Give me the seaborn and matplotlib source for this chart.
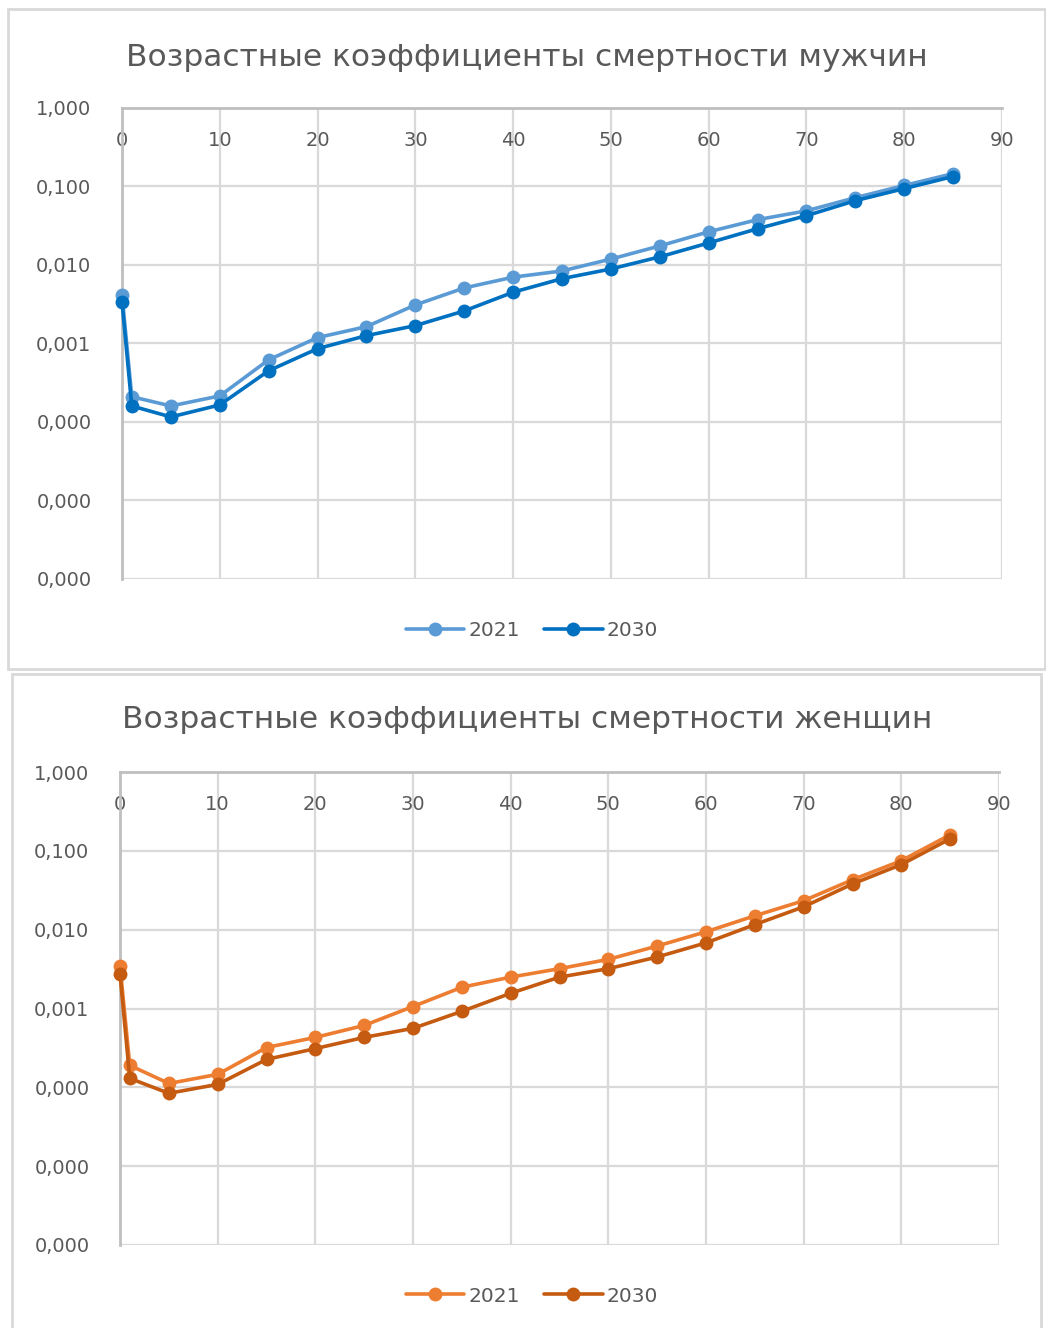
import matplotlib
matplotlib.use("Agg")
import matplotlib.pyplot as plt
import seaborn as sns
import pandas as pd
from matplotlib.patches import Rectangle

# ---- data ----
ages = [0, 1, 5, 10, 15, 20, 25, 30, 35, 40, 45, 50, 55, 60, 65, 70, 75, 80, 85]
men_2021 = [0.0042, 0.00021, 0.00016, 0.000215, 0.00062, 0.00119, 0.00164, 0.0031, 0.0051,
            0.0070, 0.0084, 0.0119, 0.0175, 0.0265, 0.0378, 0.049, 0.072, 0.103, 0.146]
men_2030 = [0.0034, 0.00016, 0.000116, 0.000165, 0.00045, 0.00086, 0.00126, 0.00169, 0.0026,
            0.0045, 0.0067, 0.0089, 0.0127, 0.0191, 0.029, 0.0425, 0.066, 0.094, 0.134]
women_2021 = [0.0035, 0.00019, 0.000112, 0.000146, 0.00032, 0.00043, 0.00061, 0.00106, 0.00186,
              0.0025, 0.0032, 0.0042, 0.0062, 0.0094, 0.015, 0.0233, 0.043, 0.075, 0.16]
women_2030 = [0.00275, 0.00013, 0.000084, 0.000109, 0.000226, 0.00031, 0.00043, 0.00056, 0.00092,
              0.00156, 0.0025, 0.0032, 0.0045, 0.0068, 0.0116, 0.0195, 0.038, 0.067, 0.142]
series_labels = ["2021", "2030"]
titles = ["Возрастные коэффициенты смертности мужчин",
          "Возрастные коэффициенты смертности женщин"]
y_ticks = [1e-6, 1e-5, 1e-4, 1e-3, 1e-2, 1e-1, 1.0]
y_tick_labels = ["0,000", "0,000", "0,000", "0,001", "0,010", "0,100", "1,000"]
x_ticks = [0, 10, 20, 30, 40, 50, 60, 70, 80, 90]

men_colors = ["#5B9BD5", "#0070C0"]
women_colors = ["#ED7D31", "#C55A11"]

sns.set_theme(style="white")
plt.rcParams["font.family"] = ["DejaVu Sans"]
TEXT = "#595959"
GRID = "#D9D9D9"
SPINE = "#BFBFBF"

W, H = 1046, 1328
fig = plt.figure(figsize=(W / 100, H / 100), dpi=100)
fig.patch.set_facecolor("white")

def fx(px):
    return px / W

def fy(py):
    return 1 - py / H

# panel frames
for (x0, y0, x1, y1) in [(8, 9, 1045, 669), (12, 674, 1041, 1330)]:
    fig.patches.append(Rectangle((fx(x0), fy(y1)), fx(x1 - x0), (y1 - y0) / H,
                                 transform=fig.transFigure, facecolor="white",
                                 edgecolor=GRID, linewidth=2, zorder=-10))

panels = [
    dict(box=(122, 108, 1002, 579), title_y=55, legend_y=631,
         data=[men_2021, men_2030], colors=men_colors, title=titles[0]),
    dict(box=(120, 772, 999, 1245), title_y=718, legend_y=1296,
         data=[women_2021, women_2030], colors=women_colors, title=titles[1]),
]

for p in panels:
    l, t, r, b = p["box"]
    ax = fig.add_axes([fx(l), fy(b), fx(r - l), (b - t) / H])
    ax.set_zorder(5)
    ax.set_facecolor("none")
    df = pd.DataFrame({"age": ages * 2,
                       "rate": p["data"][0] + p["data"][1],
                       "year": [series_labels[0]] * len(ages) + [series_labels[1]] * len(ages)})
    sns.lineplot(data=df, x="age", y="rate", hue="year", palette=p["colors"],
                 marker="o", markersize=10, markeredgewidth=0, linewidth=2.6,
                 ax=ax, legend=False, zorder=3, clip_on=False)
    ax.set_yscale("log")
    ax.set_ylim(1e-6, 1)
    ax.set_xlim(0, 90)
    ax.set_yticks(y_ticks)
    ax.set_yticklabels(y_tick_labels)
    ax.minorticks_off()
    ax.set_xticks(x_ticks)
    ax.set_xticklabels([str(v) for v in x_ticks])
    ax.set_xlabel("")
    ax.set_ylabel("")
    ax.grid(True, color=GRID, linewidth=1.6, zorder=0)
    ax.set_axisbelow(True)
    for s in ["bottom", "right"]:
        ax.spines[s].set_visible(False)
    for s in ["left", "top"]:
        ax.spines[s].set_color(SPINE)
        ax.spines[s].set_linewidth(2)
    ax.tick_params(axis="x", top=True, labeltop=True, bottom=False, labelbottom=False,
                   length=0, pad=-30, labelsize=14, labelcolor=TEXT)
    ax.tick_params(axis="y", length=0, pad=22, labelsize=14, labelcolor=TEXT)

    fig.text(fx(527), fy(p["title_y"] + 2), p["title"], ha="center", va="center",
             fontsize=22.5, color=TEXT)

    handles = [plt.Line2D([], [], color=c, marker="o", markersize=10, markeredgewidth=0,
                          linewidth=2.6) for c in p["colors"]]
    fig.legend(handles, series_labels, loc="center", bbox_to_anchor=(fx(532), fy(p["legend_y"])),
               ncol=2, frameon=False, fontsize=14.5, labelcolor=TEXT, handlelength=2.9,
               handletextpad=0.2, columnspacing=1.2)

fig.savefig("out.png", dpi=100, facecolor="white")
